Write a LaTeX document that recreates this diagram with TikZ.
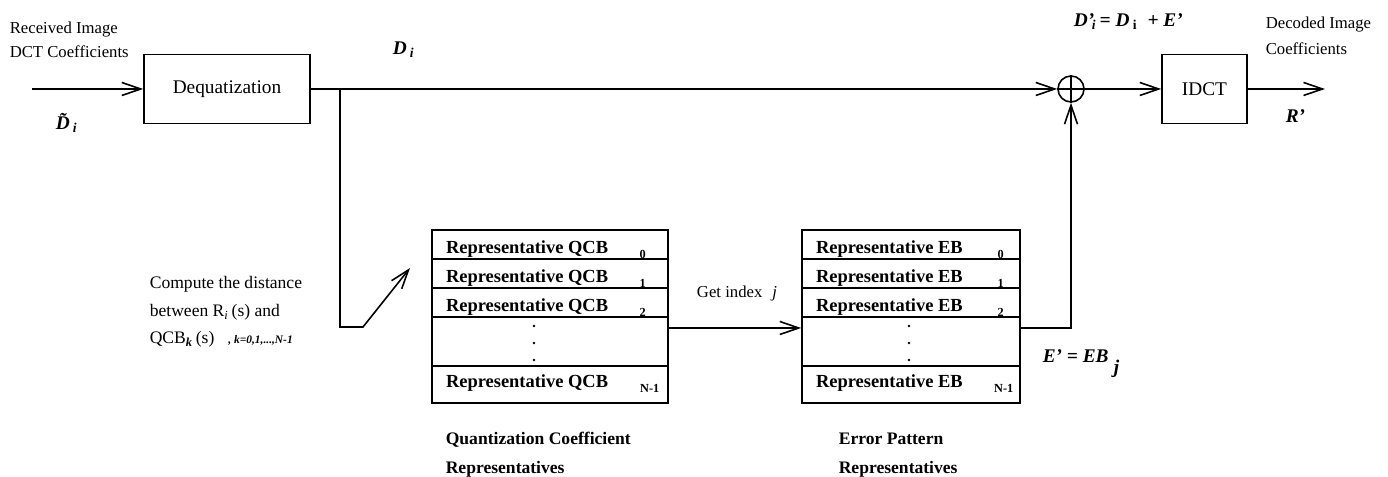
\documentclass[tikz,border=0pt]{standalone}
\usepackage{fontspec}
\setmainfont{Liberation Serif}
\usetikzlibrary{arrows.meta}

\tikzset{
  arr/.style={-{Straight Barb[length=3.8mm,width=2.6mm]}},
  blk/.style={draw, minimum height=1.38cm, inner sep=0pt, font=\fontsize{11}{13}\selectfont},
  cell/.style={draw, inner sep=0pt},
  celltext/.style={inner sep=0pt, font=\bfseries\fontsize{10.5}{12}\selectfont},
  idx/.style={inner sep=0pt, font=\bfseries\fontsize{7}{8}\selectfont},
  lbl/.style={inner sep=0pt, align=left, font=\fontsize{9.5}{13.66}\selectfont},
  sym/.style={inner sep=0pt, font=\bfseries\itshape\fontsize{11}{13}\selectfont},
  tabcap/.style={inner sep=0pt, align=left, font=\bfseries\fontsize{10}{16.5}\selectfont},
}

\begin{document}
\begin{tikzpicture}[line width=0.9pt]
\useasboundingbox (0,0) rectangle (27.76,9.54);

% main chain
\coordinate (in) at (0.64,7.76);
\node[blk, minimum width=3.32cm] (deq) at (4.54,7.76) {Dequatization};
\node[draw, circle, minimum size=0.52cm, inner sep=0pt] (sum) at (21.42,7.76) {};
\draw (sum.north) -- (sum.south);
\draw (sum.west) -- (sum.east);
\node[blk, minimum width=1.7cm] (idct) at (24.09,7.76) {IDCT};
\coordinate (out) at (26.5,7.76);
\draw[arr] (in) -- (deq);
\draw[arr] (deq) -- (sum);
\draw[arr] (sum) -- (idct);
\draw[arr] (idct) -- (out);

% quantization coefficient table
\foreach \i/\y in {0/4.65, 1/4.07, 2/3.49} {
  \node[cell, minimum width=4.72cm, minimum height=0.58cm] (q\i) at (11.0,\y) {};
  \node[celltext, anchor=base west] at ([xshift=0.28cm, yshift=0.12cm]q\i.south west) {Representative QCB};
  \node[idx, anchor=base] at ([xshift=-0.52cm, yshift=0.03cm]q\i.south east) {\i};
}
\node[cell, minimum width=4.72cm, minimum height=0.98cm] (qd) at (11.0,2.71) {};
\node[cell, minimum width=4.72cm, minimum height=0.74cm] (qn) at (11.0,1.85) {};
\node[celltext, anchor=base west] at ([xshift=0.28cm, yshift=0.32cm]qn.south west) {Representative QCB};
\node[idx, anchor=base] at ([xshift=-0.38cm, yshift=0.22cm]qn.south east) {N-1};

% error pattern table
\foreach \i/\y in {0/4.65, 1/4.07, 2/3.49} {
  \node[cell, minimum width=4.36cm, minimum height=0.58cm] (e\i) at (18.22,\y) {};
  \node[celltext, anchor=base west] at ([xshift=0.28cm, yshift=0.12cm]e\i.south west) {Representative EB};
  \node[idx, anchor=base] at ([xshift=-0.4cm, yshift=0.03cm]e\i.south east) {\i};
}
\node[cell, minimum width=4.36cm, minimum height=0.98cm] (ed) at (18.22,2.71) {};
\node[cell, minimum width=4.36cm, minimum height=0.74cm] (en) at (18.22,1.85) {};
\node[celltext, anchor=base west] at ([xshift=0.28cm, yshift=0.32cm]en.south west) {Representative EB};
\node[idx, anchor=base] at ([xshift=-0.34cm, yshift=0.22cm]en.south east) {N-1};

% dots
\foreach \d in {0.31, -0.03, -0.37} {
  \fill ([xshift=-0.32cm, yshift=\d cm]qd.center) circle (0.028);
  \fill ([xshift=-0.04cm, yshift=\d cm]ed.center) circle (0.028);
}

% connectors
\coordinate (br) at (6.8,7.76);
\coordinate (kn) at (7.26,3.0);
\coordinate (tip) at (8.2,4.18);
\draw[arr] (br) |- (kn) -- (tip);
\draw[arr] ([yshift=0.27cm]qd.east) -- ([yshift=0.27cm]ed.west);
\draw[arr] ([yshift=0.27cm]ed.east) -| (sum.south);

% labels
\node[lbl, anchor=north west] (rx) at (0.18,9.12) {Received Image\\DCT Coefficients};
\node[lbl, anchor=north west, font=\fontsize{9.5}{14.8}\selectfont] (dec) at (25.3,9.22) {Decoded Image\\Coefficients};
\node[sym, anchor=base west] (dt) at (1.1,6.94) {\~{D}\,\textsubscript{i}};
\node[sym, anchor=base west] (dl) at (7.84,8.44) {D\,\textsubscript{i}};
\node[sym, anchor=base west] (ds) at (21.46,9.0) {D'\kern-0.12em\textsubscript{i}\,= D\,\textsubscript{\upshape i}\; + E'};
\node[sym, anchor=base west] (rp) at (25.7,7.08) {R'};
\node[lbl, anchor=north west, font=\fontsize{10}{15.6}\selectfont] (cmp) at (2.98,4.02)
  {Compute the distance\\between R\textsubscript{\itshape i}\,(s) and\\QCB\textsubscript{\bfseries\itshape k}\,(s)\hspace{0.8em}{\bfseries\itshape\fontsize{6.5}{8}\selectfont , k=0,1,...,N-1}};
\node[lbl, anchor=base] (gi) at (14.74,3.58) {Get index\hspace{0.6em}{\itshape j}};
\node[sym, anchor=base west] (ej) at (20.84,2.28) {E' = EB\hspace{3pt}\raisebox{-5.7pt}{j}};
\node[tabcap, anchor=north west] (qc) at (8.9,0.905) {Quantization Coefficient\\Representatives};
\node[tabcap, anchor=north west] (ec) at (16.76,0.905) {Error Pattern\\Representatives};
\end{tikzpicture}
\end{document}
